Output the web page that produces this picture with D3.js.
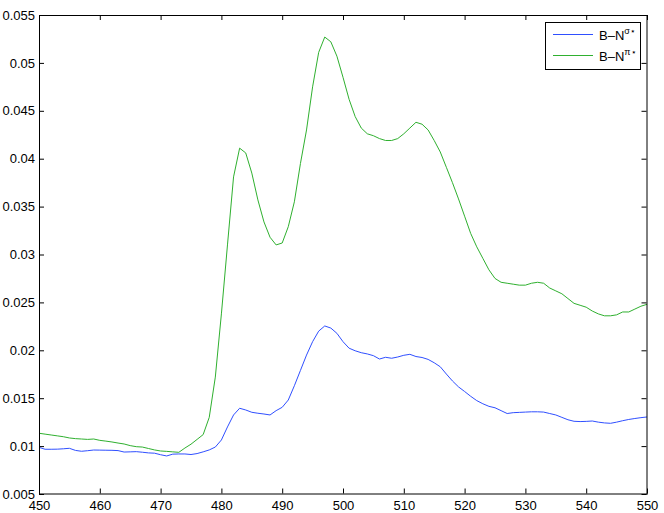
<!DOCTYPE html>
<html>
<head>
<meta charset="utf-8">
<script src="https://cdn.jsdelivr.net/npm/d3@7"></script>
<style>
  html, body { margin: 0; padding: 0; background: #fff; }
  svg { display: block; font-family: "Liberation Sans", Arial, Helvetica, sans-serif; }
</style>
</head>
<body>
<svg id="chart" width="664" height="513"></svg>
<script>
// ---- data ----
const energy = d3.range(450, 551, 1);
const sigmaValues = [
  0.00987, 0.00967, 0.00967, 0.00968, 0.00972, 0.00977, 0.00955, 0.00946, 0.00952, 0.00959,
  0.00958, 0.00957, 0.00956, 0.00953, 0.00938, 0.00940, 0.00942, 0.00936, 0.00929, 0.00926,
  0.00910, 0.00897, 0.00916, 0.00918, 0.00918, 0.00912, 0.00922, 0.00940, 0.00960, 0.00990,
  0.01064, 0.01200, 0.01325, 0.01395, 0.01377, 0.01353, 0.01343, 0.01335, 0.01325, 0.01370,
  0.01405, 0.01481, 0.01630, 0.01790, 0.01950, 0.02090, 0.02200, 0.02254, 0.02232, 0.02177,
  0.02090, 0.02022, 0.01995, 0.01975, 0.01962, 0.01944, 0.01909, 0.01927, 0.01917, 0.01930,
  0.01948, 0.01958, 0.01935, 0.01925, 0.01905, 0.01870, 0.01828, 0.01752, 0.01680, 0.01618,
  0.01570, 0.01520, 0.01475, 0.01442, 0.01415, 0.01400, 0.01370, 0.01340, 0.01349, 0.01352,
  0.01355, 0.01358, 0.01358, 0.01355, 0.01340, 0.01325, 0.01300, 0.01275, 0.01259, 0.01256,
  0.01258, 0.01262, 0.01250, 0.01242, 0.01238, 0.01250, 0.01265, 0.01278, 0.01288, 0.01297,
  0.01304
];
const piValues = [
  0.01134, 0.01125, 0.01116, 0.01107, 0.01098, 0.01085, 0.01078, 0.01074, 0.01070, 0.01074,
  0.01060, 0.01052, 0.01043, 0.01032, 0.01022, 0.01005, 0.00994, 0.00990, 0.00975, 0.00960,
  0.00949, 0.00945, 0.00940, 0.00935, 0.00980, 0.01020, 0.01070, 0.01120, 0.01300, 0.01720,
  0.02380, 0.03100, 0.03810, 0.04110, 0.04060, 0.03850, 0.03570, 0.03340, 0.03180, 0.03100,
  0.03120, 0.03290, 0.03550, 0.03950, 0.04300, 0.04750, 0.05110, 0.05270, 0.05220, 0.05070,
  0.04850, 0.04620, 0.04440, 0.04320, 0.04260, 0.04240, 0.04210, 0.04190, 0.04190, 0.04210,
  0.04260, 0.04320, 0.04380, 0.04360, 0.04300, 0.04190, 0.04070, 0.03910, 0.03750, 0.03580,
  0.03400, 0.03220, 0.03080, 0.02960, 0.02840, 0.02750, 0.02710, 0.02700, 0.02690, 0.02680,
  0.02680, 0.02700, 0.02710, 0.02700, 0.02650, 0.02620, 0.02590, 0.02540, 0.02490, 0.02470,
  0.02450, 0.02410, 0.02380, 0.02360, 0.02360, 0.02370, 0.02400, 0.02400, 0.02430, 0.02460,
  0.02480
];
const xTicks = [450, 460, 470, 480, 490, 500, 510, 520, 530, 540, 550];
const yTicks = [0.005, 0.01, 0.015, 0.02, 0.025, 0.03, 0.035, 0.04, 0.045, 0.05, 0.055];
const seriesNames = ["σ⋆", "π⋆"];
const seriesColors = ["#2f4fff", "#2fb02f"];

// ---- layout ----
const plotL = 39, plotR = 647, plotT = 15, plotB = 494;
const svg = d3.select("#chart");
const x = d3.scaleLinear().domain([450, 550]).range([plotL, plotR]);
const y = d3.scaleLinear().domain([0.005, 0.055]).range([plotB, plotT]);
const fmt = d => String(+d.toFixed(3));

svg.append("rect").attr("x", 0).attr("y", 0).attr("width", 664).attr("height", 513).attr("fill", "#fff");

// lines
const line = d3.line().x((d, i) => x(energy[i])).y(d => y(d));
[sigmaValues, piValues].forEach((vals, k) => {
  svg.append("path")
    .datum(vals)
    .attr("fill", "none")
    .attr("stroke", seriesColors[k])
    .attr("stroke-width", 1)
    .attr("stroke-linejoin", "round")
    .attr("d", line);
});

// axes
function styleAxis(g) {
  g.selectAll("path.domain").attr("stroke", "#000");
  g.selectAll(".tick line").attr("stroke", "#000");
  g.selectAll(".tick text").attr("fill", "#000").style("font-size", "13px")
    .style("font-family", "'Liberation Sans', Arial, Helvetica, sans-serif");
}
svg.append("g").attr("transform", `translate(0,${plotB - 0.5})`)
  .call(d3.axisBottom(x).tickValues(xTicks).tickFormat(d3.format("d")).tickSizeInner(-5).tickSizeOuter(0).tickPadding(7.5))
  .call(styleAxis);
svg.append("g").attr("transform", `translate(0,${plotT})`)
  .call(d3.axisTop(x).tickValues(xTicks).tickFormat("").tickSizeInner(-5).tickSizeOuter(0))
  .call(styleAxis);
svg.append("g").attr("transform", `translate(${plotL},0)`)
  .call(d3.axisLeft(y).tickValues(yTicks).tickFormat(fmt).tickSizeInner(-5).tickSizeOuter(0).tickPadding(4))
  .call(styleAxis);
svg.append("g").attr("transform", `translate(${plotR - 0.5},0)`)
  .call(d3.axisRight(y).tickValues(yTicks).tickFormat("").tickSizeInner(-5).tickSizeOuter(0))
  .call(styleAxis);

// legend
const lg = svg.append("g");
lg.append("rect").attr("x", 545.5).attr("y", 22.5).attr("width", 95).attr("height", 47)
  .attr("fill", "#fff").attr("stroke", "#000").attr("stroke-width", 1);
const rowY = [34.5, 55.5];
seriesNames.forEach((name, k) => {
  lg.append("line").attr("x1", 553).attr("x2", 593).attr("y1", rowY[k]).attr("y2", rowY[k])
    .attr("stroke", seriesColors[k]).attr("stroke-width", 1);
  const t = lg.append("text").attr("x", 599).attr("y", rowY[k] + 5)
    .style("font-size", "13px").attr("fill", "#000");
  t.append("tspan").text("B–N");
  t.append("tspan").attr("dy", -6).style("font-size", "9px").text(name);
});
</script>
</body>
</html>
